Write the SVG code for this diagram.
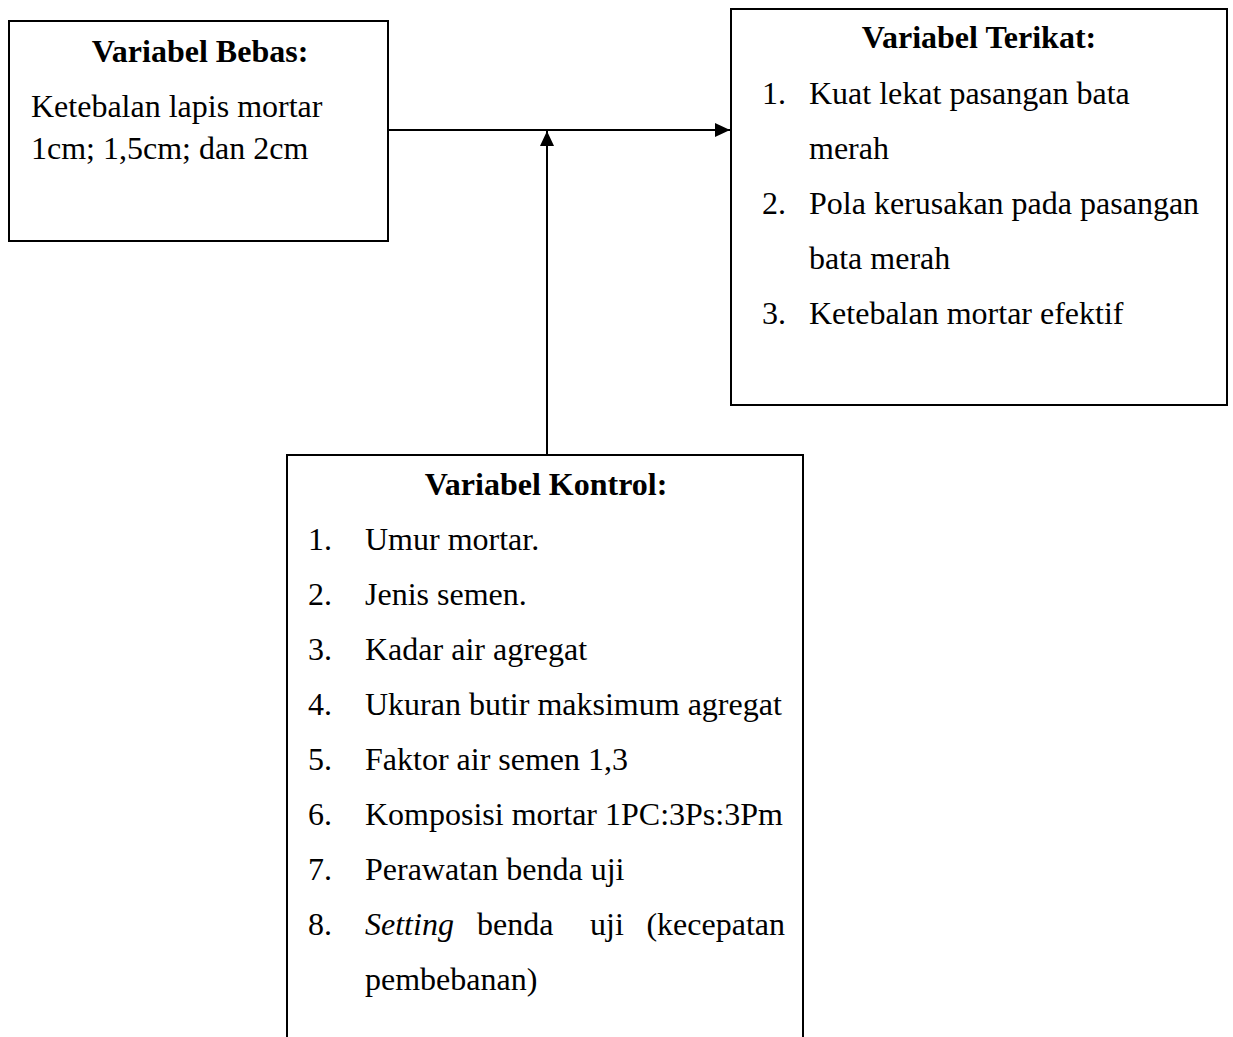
<svg xmlns="http://www.w3.org/2000/svg" width="1233" height="1037" viewBox="0 0 1233 1037">
<style>
.box{fill:#fff;stroke:#000;stroke-width:2}
.t{font-family:"Liberation Serif","Times New Roman",serif;font-size:32px;fill:#000}
.b{font-weight:bold}
.i{font-style:italic}
.c{text-anchor:middle}
.e{text-anchor:end}
.conn{stroke:#000;stroke-width:2;fill:none}
</style>
<defs>
<marker id="arr" markerUnits="userSpaceOnUse" markerWidth="16" markerHeight="16" viewBox="0 0 16 16" refX="15" refY="8" orient="auto">
<path d="M0,1 L15,8 L0,15 Z" fill="#000"/>
</marker>
</defs>
<rect width="1233" height="1037" fill="#fff"/>
<g id="connectors">
<line class="conn" x1="388" y1="130" x2="730" y2="130" marker-end="url(#arr)"/>
<line class="conn" x1="547" y1="455" x2="547" y2="131" marker-end="url(#arr)"/>
</g>
<g id="bebas">
<rect class="box" x="9" y="21" width="379" height="220"/>
<text class="t b c" x="200" y="62">Variabel Bebas:</text>
<text class="t" x="31" y="117">Ketebalan lapis mortar</text>
<text class="t" x="31" y="159">1cm; 1,5cm; dan 2cm</text>
</g>
<g id="terikat">
<rect class="box" x="731" y="9" width="496" height="396"/>
<text class="t b c" x="979" y="48">Variabel Terikat:</text>
<text class="t" x="762" y="104">1.</text>
<text class="t" x="809" y="104">Kuat lekat pasangan bata</text>
<text class="t" x="809" y="159">merah</text>
<text class="t" x="762" y="214">2.</text>
<text class="t" x="809" y="214">Pola kerusakan pada pasangan</text>
<text class="t" x="809" y="269">bata merah</text>
<text class="t" x="762" y="324">3.</text>
<text class="t" x="809" y="324">Ketebalan mortar efektif</text>
</g>
<g id="kontrol">
<path class="box" d="M287,1040 L287,455 L803,455 L803,1040"/>
<text class="t b c" x="546" y="495">Variabel Kontrol:</text>
<text class="t" x="308" y="550">1.</text>
<text class="t" x="365" y="550">Umur mortar.</text>
<text class="t" x="308" y="605">2.</text>
<text class="t" x="365" y="605">Jenis semen.</text>
<text class="t" x="308" y="660">3.</text>
<text class="t" x="365" y="660">Kadar air agregat</text>
<text class="t" x="308" y="715">4.</text>
<text class="t" x="365" y="715">Ukuran butir maksimum agregat</text>
<text class="t" x="308" y="770">5.</text>
<text class="t" x="365" y="770">Faktor air semen 1,3</text>
<text class="t" x="308" y="825">6.</text>
<text class="t" x="365" y="825">Komposisi mortar 1PC:3Ps:3Pm</text>
<text class="t" x="308" y="880">7.</text>
<text class="t" x="365" y="880">Perawatan benda uji</text>
<text class="t" x="308" y="935">8.</text>
<text class="t i" x="365" y="935">Setting</text>
<text class="t" x="477" y="935">benda</text>
<text class="t" x="590" y="935">uji</text>
<text class="t e" x="785" y="935">(kecepatan</text>
<text class="t" x="365" y="990">pembebanan)</text>
</g>
</svg>
